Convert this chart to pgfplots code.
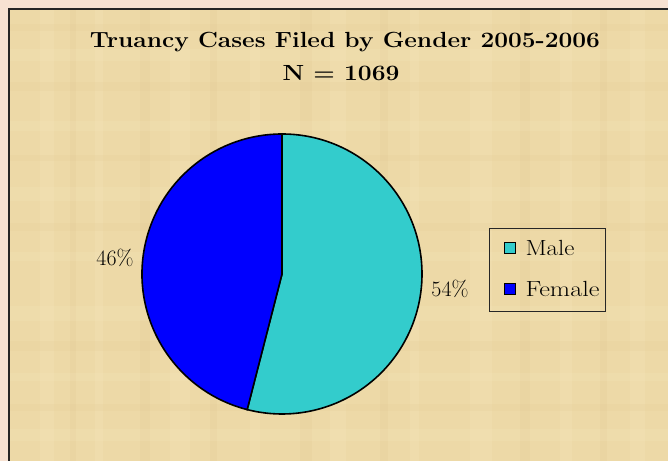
\documentclass[border=0pt]{standalone}
\usepackage{pgfplots}
\usepackage{pgfplotstable}
\usetikzlibrary{calc}
\pgfplotsset{compat=1.18}
\definecolor{male}{RGB}{51,204,204}
\definecolor{female}{RGB}{0,0,255}
\definecolor{parch}{RGB}{237,217,167}
\definecolor{parchdark}{RGB}{222,196,140}
\definecolor{parchlight}{RGB}{246,232,190}
\definecolor{outerbg}{RGB}{247,226,210}
\pgfplotstableread{
label value
Male 54
Female 46
}\piedata
\begin{document}
\begin{tikzpicture}
\pgfplotstablegetelem{0}{value}\of\piedata \let\vmale\pgfplotsretval
\pgfplotstablegetelem{1}{value}\of\piedata \let\vfemale\pgfplotsretval
\pgfmathsetmacro\amale{90-3.6*\vmale}
\pgfmathsetmacro\afemale{\amale-3.6*\vfemale}
\begin{axis}[x=1bp,y=1bp,xmin=0,xmax=668,ymin=0,ymax=461,hide axis,clip=true]
\fill[outerbg] (axis cs:0,0) rectangle (axis cs:668,461);
\fill[parch] (axis cs:9,-10) rectangle (axis cs:680,452);
% subtle parchment texture bands
\foreach \xa/\xb in {40/54,95/103,170/190,250/260,330/346,410/419,470/492,560/572,630/645}{
  \edef\tmp{\noexpand\fill[parchlight,opacity=0.25] (axis cs:\xa,-10) rectangle (axis cs:\xb,452);}\tmp}
\foreach \xa/\xb in {70/76,140/150,210/217,300/312,380/388,520/530,600/607}{
  \edef\tmp{\noexpand\fill[parchdark,opacity=0.15] (axis cs:\xa,-10) rectangle (axis cs:\xb,452);}\tmp}
\foreach \ya/\yb in {20/32,80/88,140/155,200/209,260/274,330/340,400/412}{
  \edef\tmp{\noexpand\fill[parchlight,opacity=0.2] (axis cs:9,\ya) rectangle (axis cs:680,\yb);}\tmp}
\foreach \ya/\yb in {50/57,110/120,230/238,300/306,370/379,430/437}{
  \edef\tmp{\noexpand\fill[parchdark,opacity=0.13] (axis cs:9,\ya) rectangle (axis cs:680,\yb);}\tmp}
\draw[line width=2.2bp, black!85] (axis cs:9,-10) -- (axis cs:9,452) -- (axis cs:680,452);
\filldraw[fill=male, draw=black, line width=1.6bp] (axis cs:282,187) -- (axis cs:282,327) arc[start angle=90, end angle=\amale, radius=140bp] -- cycle;
\filldraw[fill=female, draw=black, line width=1.6bp] (axis cs:282,187) -- ($(axis cs:282,187)+(\amale:140bp)$) arc[start angle=\amale, end angle=\afemale, radius=140bp] -- cycle;
\node[font=\fontsize{22}{26}\selectfont] at (axis cs:115,203) {46\%};
\node[font=\fontsize{22}{26}\selectfont] at (axis cs:450,172) {54\%};
\node[font=\bfseries\fontsize{22}{26}\selectfont] at (axis cs:345,419) {\resizebox{510bp}{\height}{Truancy Cases Filed by Gender 2005-2006}};
\node[font=\bfseries\fontsize{22}{26}\selectfont] at (axis cs:341,388) {\resizebox{117bp}{\height}{N = 1069}};
\draw[black!85, line width=0.9bp] (axis cs:489,150) rectangle (axis cs:605,233);
\filldraw[fill=male,draw=black,line width=1.2bp] (axis cs:504.5,207.5) rectangle (axis cs:515.5,218.5);
\filldraw[fill=female,draw=black,line width=1.2bp] (axis cs:504.5,166.5) rectangle (axis cs:515.5,177.5);
\node[anchor=west,font=\fontsize{22}{26}\selectfont] at (axis cs:522,213) {\resizebox{49bp}{\height}{Male}};
\node[anchor=west,font=\fontsize{22}{26}\selectfont] at (axis cs:522,172) {\resizebox{74bp}{\height}{Female}};
\end{axis}
\pgfresetboundingbox
\path[use as bounding box] (current axis.south west) rectangle (current axis.north east);
\end{tikzpicture}
\end{document}
